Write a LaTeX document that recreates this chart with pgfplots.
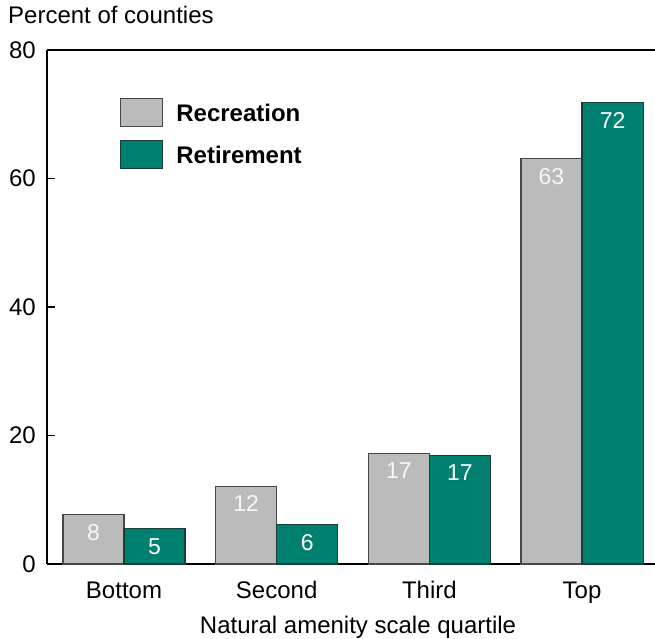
\documentclass[border=0pt]{standalone}
\usepackage{fontspec}
\setmainfont{Liberation Sans}
\usepackage{pgfplots}
\usepackage{pgfplotstable}
\pgfplotsset{compat=1.18}

\definecolor{recgray}{HTML}{BBBBBB}
\definecolor{recedge}{HTML}{474747}
\definecolor{retteal}{HTML}{008070}
\definecolor{retedge}{HTML}{153F38}

\pgfplotstableread{
x rec reclab ret retlab
0 7.7 8 5.5 5
1 12.1 12 6.1 6
2 17.2 17 16.9 17
3 63.1 63 71.8 72
}\quartiles

\begin{document}
\begin{tikzpicture}
\begin{axis}[
  name=ax,
  scale only axis,
  width=608pt, height=514pt,
  font=\fontsize{24}{29}\selectfont,
  /pgf/number format/assume math mode=true,
  ybar=0pt, bar width=0.4,
  xmin=-0.5044, xmax=3.478,
  ymin=0, ymax=80,
  enlargelimits=false,
  axis x line=box, axis y line=left,
  axis line style={-, line width=1.6pt},
  xtick={0,1,2,3},
  xticklabels={Bottom,Second,Third,Top},
  x tick style={draw=none},
  xticklabel style={anchor=base, inner sep=0pt, yshift=-34pt},
  ytick={0,20,40,60,80},
  tick align=inside,
  y tick style={line width=1.2pt, black},
  major tick length=8pt,
  yticklabel style={anchor=east, inner sep=0pt, xshift=-11pt},
  xlabel={Natural amenity scale quartile},
  xlabel style={at={(axis description cs:0.5,0)}, anchor=base, inner sep=0pt, yshift=-69pt, xshift=7pt},
  ylabel={Percent of counties},
  ylabel style={at={(axis description cs:0,1)}, rotate=-90, anchor=base west, inner sep=0pt, xshift=-39pt, yshift=27pt},
  nodes near coords,
  nodes near coords style={anchor=north, inner sep=0pt, yshift=-9pt, font=\fontsize{23}{27}\selectfont},
  legend style={at={(axis description cs:0.12,0.9066)}, anchor=north west,
    draw=none, fill=none, inner sep=0pt, row sep=12.5pt, column sep=13pt,
    font=\fontsize{24}{29}\selectfont\bfseries,
    nodes={inner sep=0pt}},
  legend cell align=left,
  legend image code/.code={\draw[#1, line width=1.2pt] (0pt,-13.4pt) rectangle (42pt,14.6pt);},
]
\addplot[fill=recgray, draw=recedge, line width=1.2pt, bar shift=-0.2,
  point meta=explicit symbolic, every node near coord/.append style={text=white!94!gray}]
  table[x=x, y=rec, meta=reclab] {\quartiles};
\addplot[fill=retteal, draw=retedge, line width=1.2pt, bar shift=0.2,
  point meta=explicit symbolic, every node near coord/.append style={text=white}]
  table[x=x, y=ret, meta=retlab] {\quartiles};
\legend{Recreation,Retirement}
\end{axis}
\pgfresetboundingbox
\path ([xshift=-47pt,yshift=-74pt]ax.south west) rectangle ([xshift=608pt,yshift=564pt]ax.south west);
\end{tikzpicture}
\end{document}
